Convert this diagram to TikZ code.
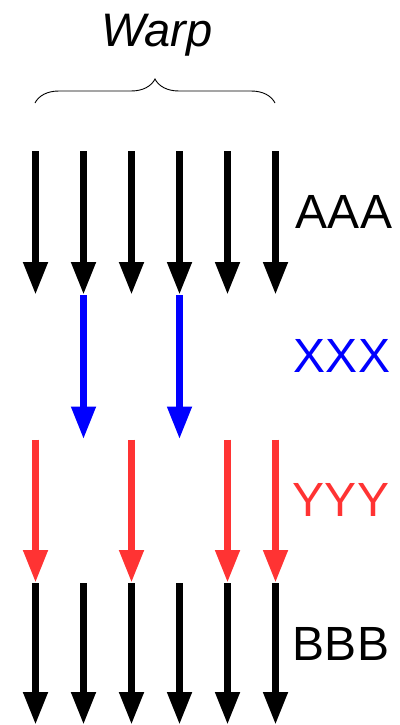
\documentclass[tikz,border=0pt]{standalone}
\usepackage{fontspec}
\setmainfont{Liberation Sans}
\usetikzlibrary{arrows.meta,decorations.pathreplacing}
\definecolor{yred}{HTML}{FF3333}

\begin{document}
\begin{tikzpicture}[x=1pt,y=1pt,
  thread/.style={line width=7.5pt,-{Triangle[length=33pt,width=23pt]}},
  lbl/.style={font=\fontsize{48}{48}\selectfont,anchor=base}]
\useasboundingbox (0,0) rectangle (399,-725);

% one column per thread, one row per stage
\foreach \i/\x in {1/35.5,2/83.5,3/131.5,4/179.5,5/227.5,6/275.5} {
  \coordinate (T\i) at (\x,-151);
  \coordinate (U\i) at (\x,-295);
  \coordinate (V\i) at (\x,-439.5);
  \coordinate (W\i) at (\x,-583);
  \coordinate (Z\i) at (\x,-725);
}

\node[font=\fontsize{47}{47}\selectfont\itshape,anchor=base] (warp) at (157,-47) {Warp};
\draw[line width=0.9pt,decorate,decoration={brace,amplitude=24pt}]
  (35,-103) -- (275,-103);

\node[lbl] (AAA) at (344,-228) {AAA};
\node[lbl,blue] (XXX) at (342,-372) {XXX};
\node[lbl,yred] (YYY) at (341,-516) {YYY};
\node[lbl] (BBB) at (341,-660) {BBB};

\foreach \i in {1,...,6} {
  \draw[thread] (T\i) -- (U\i);
  \draw[thread] (W\i) -- (Z\i);
}
\foreach \i in {2,4}
  \draw[thread,blue] (U\i) -- (V\i);
\foreach \i in {1,3,5,6}
  \draw[thread,yred] (V\i) -- (W\i);
\end{tikzpicture}
\end{document}
